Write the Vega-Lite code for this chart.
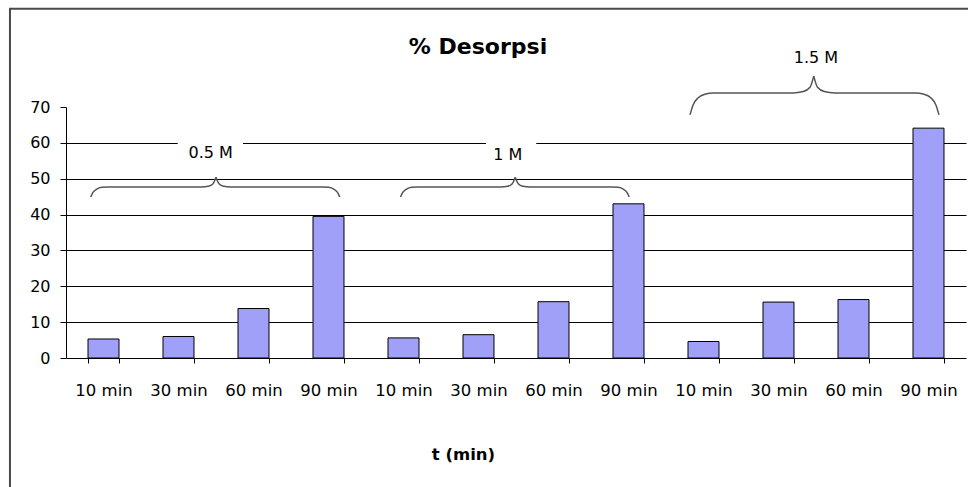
{
  "$schema": "https://vega.github.io/schema/vega-lite/v6.json",
  "width": 900,
  "height": 251,
  "autosize": "none",
  "padding": {"left": 66, "top": 107, "right": 2, "bottom": 129},
  "background": "white",
  "title": {
    "text": "% Desorpsi",
    "font": "DejaVu Sans",
    "fontSize": 22,
    "fontWeight": "bold",
    "color": "black",
    "anchor": "middle",
    "frame": "group",
    "baseline": "alphabetic",
    "offset": -68,
    "dx": -38
  },
  "config": {
    "view": {"stroke": null},
    "font": "DejaVu Sans",
    "axisY": {
      "title": null,
      "values": [0, 10, 20, 30, 40, 50, 60, 70],
      "labelOverlap": false,
      "grid": true,
      "gridColor": "black",
      "gridOpacity": {"condition": {"test": "datum.value == 70 || datum.value == 0", "value": 0}, "value": 1},
      "labelFont": "DejaVu Sans",
      "labelFontSize": 16,
      "labelColor": "black",
      "labelPadding": 10,
      "tickColor": "black",
      "tickSize": 6,
      "domainColor": "black"
    }
  },
  "datasets": {
    "bars": [
      {"key": "0.5 M|10 min", "v": 5.3},
      {"key": "0.5 M|30 min", "v": 6.0},
      {"key": "0.5 M|60 min", "v": 13.8},
      {"key": "0.5 M|90 min", "v": 39.5},
      {"key": "1 M|10 min", "v": 5.6},
      {"key": "1 M|30 min", "v": 6.5},
      {"key": "1 M|60 min", "v": 15.7},
      {"key": "1 M|90 min", "v": 43.0},
      {"key": "1.5 M|10 min", "v": 4.6},
      {"key": "1.5 M|30 min", "v": 15.6},
      {"key": "1.5 M|60 min", "v": 16.3},
      {"key": "1.5 M|90 min", "v": 64.1}
    ],
    "braces": [
      {"seg": "a", "x": 0.33, "y": 44.9}, {"seg": "a", "x": 0.36, "y": 46.2}, {"seg": "a", "x": 0.41, "y": 47.1}, {"seg": "a", "x": 0.48, "y": 47.6}, {"seg": "a", "x": 0.55, "y": 47.7}, {"seg": "a", "x": 1.80, "y": 47.7}, {"seg": "a", "x": 1.90, "y": 47.9}, {"seg": "a", "x": 1.96, "y": 48.6}, {"seg": "a", "x": 2.0, "y": 50.4},
      {"seg": "b", "x": 2.0, "y": 50.4}, {"seg": "b", "x": 2.04, "y": 48.6}, {"seg": "b", "x": 2.10, "y": 47.9}, {"seg": "b", "x": 2.20, "y": 47.7}, {"seg": "b", "x": 3.43, "y": 47.7}, {"seg": "b", "x": 3.50, "y": 47.6}, {"seg": "b", "x": 3.57, "y": 47.1}, {"seg": "b", "x": 3.62, "y": 46.2}, {"seg": "b", "x": 3.65, "y": 44.9},
      {"seg": "c", "x": 4.46, "y": 44.9}, {"seg": "c", "x": 4.49, "y": 46.2}, {"seg": "c", "x": 4.54, "y": 47.1}, {"seg": "c", "x": 4.61, "y": 47.6}, {"seg": "c", "x": 4.68, "y": 47.7}, {"seg": "c", "x": 5.79, "y": 47.7}, {"seg": "c", "x": 5.89, "y": 47.9}, {"seg": "c", "x": 5.95, "y": 48.6}, {"seg": "c", "x": 5.99, "y": 50.4},
      {"seg": "d", "x": 5.99, "y": 50.4}, {"seg": "d", "x": 6.03, "y": 48.6}, {"seg": "d", "x": 6.09, "y": 47.9}, {"seg": "d", "x": 6.19, "y": 47.7}, {"seg": "d", "x": 7.29, "y": 47.7}, {"seg": "d", "x": 7.36, "y": 47.6}, {"seg": "d", "x": 7.43, "y": 47.1}, {"seg": "d", "x": 7.48, "y": 46.2}, {"seg": "d", "x": 7.51, "y": 44.9},
      {"seg": "e", "x": 8.32, "y": 67.8}, {"seg": "e", "x": 8.36, "y": 70.5}, {"seg": "e", "x": 8.43, "y": 72.6}, {"seg": "e", "x": 8.53, "y": 73.6}, {"seg": "e", "x": 8.63, "y": 73.9}, {"seg": "e", "x": 9.69, "y": 73.9}, {"seg": "e", "x": 9.83, "y": 74.3}, {"seg": "e", "x": 9.92, "y": 75.5}, {"seg": "e", "x": 9.97, "y": 78.6},
      {"seg": "f", "x": 9.97, "y": 78.6}, {"seg": "f", "x": 10.02, "y": 75.5}, {"seg": "f", "x": 10.11, "y": 74.3}, {"seg": "f", "x": 10.25, "y": 73.9}, {"seg": "f", "x": 11.33, "y": 73.9}, {"seg": "f", "x": 11.43, "y": 73.6}, {"seg": "f", "x": 11.53, "y": 72.6}, {"seg": "f", "x": 11.60, "y": 70.5}, {"seg": "f", "x": 11.64, "y": 67.8}
    ],
    "labels": [
      {"label": "0.5 M", "x": 1.93, "y": 57.3},
      {"label": "1 M", "x": 5.89, "y": 56.7},
      {"label": "1.5 M", "x": 10.0, "y": 83.7}
    ],
    "boxes": [
      {"x": 1.49, "x2": 2.36, "y": 52.5, "y2": 61.5},
      {"x": 5.6, "x2": 6.27, "y": 52.5, "y2": 61.5}
    ],
    "frame": [
      {"x": -0.747, "x2": 13, "y": 97.4, "y2": -50}
    ]
  },
  "resolve": {"scale": {"x": "independent"}},
  "layer": [
    {
      "data": {"name": "bars"},
      "mark": {"type": "bar", "color": "#a0a0f9", "stroke": "black", "strokeWidth": 1},
      "encoding": {
        "x": {
          "field": "key", "type": "nominal", "sort": null,
          "scale": {"paddingInner": 0.587, "paddingOuter": 0.2935},
          "axis": {
            "title": "t (min)",
            "labelExpr": "split(datum.label, '|')[1]",
            "labelAngle": 0,
            "labelFont": "DejaVu Sans",
            "labelFontSize": 16.5,
            "labelColor": "black",
            "labelPadding": 19,
            "tickBand": "extent",
            "tickColor": "black",
            "tickSize": 5,
            "domainColor": "black",
            "titleFont": "DejaVu Sans",
            "titleFontSize": 16.5,
            "titleFontWeight": "bold",
            "titleColor": "black",
            "titleX": 397,
            "titleY": 88,
            "titleBaseline": "top"
          }
        },
        "y": {
          "field": "v", "type": "quantitative",
          "scale": {"domain": [0, 70], "nice": false}
        }
      }
    },
    {
      "data": {"name": "frame"},
      "mark": {"type": "rect", "fillOpacity": 0, "stroke": "#4a4a4a", "strokeWidth": 2, "clip": false},
      "encoding": {
        "x": {"field": "x", "type": "quantitative", "scale": {"domain": [0, 12], "nice": false, "zero": false}, "axis": null},
        "x2": {"field": "x2"},
        "y": {"field": "y", "type": "quantitative"},
        "y2": {"field": "y2"}
      }
    },
    {
      "data": {"name": "boxes"},
      "mark": {"type": "rect", "fill": "white"},
      "encoding": {
        "x": {"field": "x", "type": "quantitative", "scale": {"domain": [0, 12], "nice": false, "zero": false}, "axis": null},
        "x2": {"field": "x2"},
        "y": {"field": "y", "type": "quantitative"},
        "y2": {"field": "y2"}
      }
    },
    {
      "data": {"name": "braces"},
      "mark": {"type": "line", "interpolate": "monotone", "color": "#555555", "strokeWidth": 1.5, "clip": false},
      "encoding": {
        "x": {"field": "x", "type": "quantitative", "scale": {"domain": [0, 12], "nice": false, "zero": false}, "axis": null},
        "y": {"field": "y", "type": "quantitative"},
        "detail": {"field": "seg", "type": "nominal"}
      }
    },
    {
      "data": {"name": "labels"},
      "mark": {"type": "text", "font": "DejaVu Sans", "fontSize": 16, "color": "black", "baseline": "middle", "align": "center", "clip": false},
      "encoding": {
        "x": {"field": "x", "type": "quantitative", "scale": {"domain": [0, 12], "nice": false, "zero": false}, "axis": null},
        "y": {"field": "y", "type": "quantitative"},
        "text": {"field": "label", "type": "nominal"}
      }
    }
  ]
}
